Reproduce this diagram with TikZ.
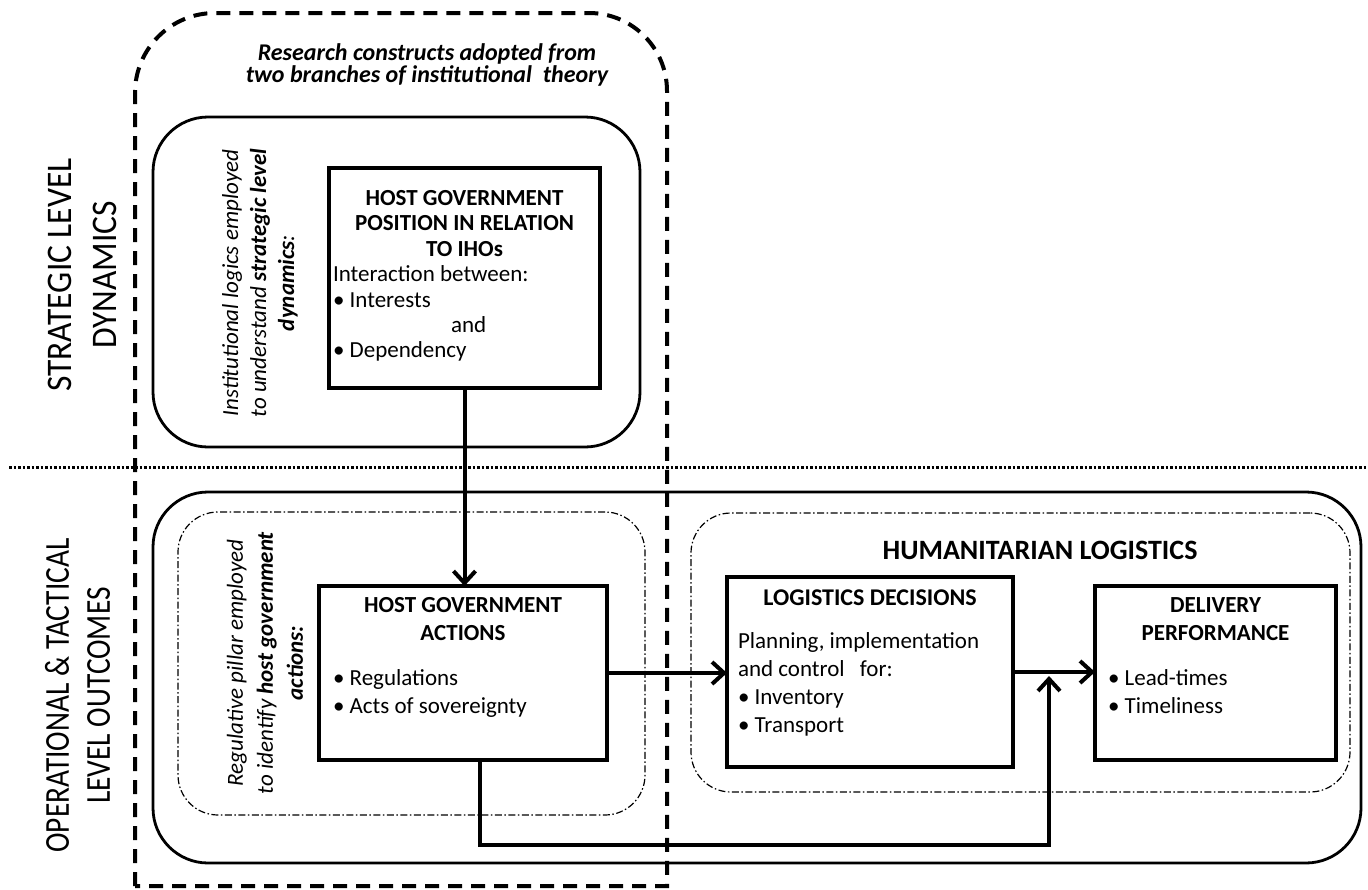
\documentclass[tikz,border=0pt]{standalone}
\usepackage{fontspec}
\setmainfont{Carlito}
\newfontfamily\stratfont[FakeStretch=0.93]{Carlito}
\newfontfamily\operfont[FakeStretch=0.84]{Carlito}
\usetikzlibrary{arrows.meta,calc}
\begin{document}
\begin{tikzpicture}[x=1pt,y=-1pt,
  every node/.style={inner sep=0pt, outer sep=0pt},
  hd/.style={font=\fontsize{23}{28}\selectfont\bfseries, align=center, anchor=north},
  bd/.style={font=\fontsize{23}{28}\selectfont, align=left, anchor=north west},
  side/.style={font=\fontsize{23}{28}\selectfont\itshape, align=center, rotate=90},
  sq/.style={draw, line width=3.5pt, rectangle},
  rbox/.style={draw, line width=2.8pt, rounded corners=55pt},
  ddbox/.style={draw, line width=1.2pt, rounded corners=40pt, dash pattern=on 7pt off 2.5pt on 1.5pt off 2.5pt},
  conn/.style={line width=4pt, -{Straight Barb[length=12pt,width=22pt]}},
]
\useasboundingbox (0,0) rectangle (1368,889);

% outer dashed region
\draw[line width=4pt, dash pattern=on 14pt off 9pt]
  (135,886) -- (135,93) arc[start angle=180,end angle=270,radius=80]
  -- (589,13) arc[start angle=270,end angle=360,radius=78] -- (667,886) -- cycle;

% dotted separator
\draw[line width=3pt, dash pattern=on 2.5pt off 2pt] (9,467) -- (1368,467);

% containers
\node[rbox, minimum width=487pt, minimum height=330pt] (strat) at (396.5,282) {};
\node[rbox, minimum width=1208pt, minimum height=371pt] (oper) at (757,677.5) {};
\node[ddbox, minimum width=467pt, minimum height=303pt] (reg) at (411.5,663.5) {};
\node[ddbox, minimum width=659pt, minimum height=279pt] (hum) at (1020.5,652.5) {};

% titles
\node[font=\fontsize{24}{22.5}\selectfont\bfseries\itshape, align=center, anchor=north] (title) at (427,43.5)
  {Research constructs adopted from\\two branches of institutional\ \ theory};
\node[font=\fontsize{36}{45}\stratfont\selectfont, align=center, rotate=90] (lstrat) at (82.5,275) {STRATEGIC LEVEL\\DYNAMICS};
\node[font=\fontsize{35}{41}\operfont\selectfont, align=center, rotate=90] (loper) at (77.5,695.5) {OPERATIONAL \& TACTICAL\\LEVEL OUTCOMES};
\node[side] (sstrat) at (260,283) {Institutional logics employed\\to understand \textbf{strategic level}\\\textbf{dynamics}:};
\node[side, font=\fontsize{23}{30}\selectfont\itshape] (sreg) at (265,663) {Regulative pillar employed\\to identify \textbf{host government}\\\textbf{actions:}};
\node[font=\fontsize{28}{32}\selectfont\bfseries] (humt) at (1040,550) {HUMANITARIAN LOGISTICS};

% boxes
\node[sq, minimum width=271pt, minimum height=220pt] (pos) at (464.5,278) {};
\node[hd, font=\fontsize{23}{25.3}\selectfont\bfseries] (posh) at (464.5,190.6) {HOST GOVERNMENT\\POSITION IN RELATION\\TO IHOs};
\node[bd, font=\fontsize{23}{25.3}\selectfont] (posb) at (333,266) {Interaction between:\\• Interests\\\hspace*{118pt}and\\• Dependency};

\node[sq, minimum width=288pt, minimum height=174pt] (act) at (463,673) {};
\node[hd] (acth) at (463,597.6) {HOST GOVERNMENT\\ACTIONS};
\node[bd] (actb) at (333,670) {• Regulations\\• Acts of sovereignty};

\node[sq, minimum width=286pt, minimum height=190pt] (log) at (870,672) {};
\node[hd, font=\fontsize{24}{28}\selectfont\bfseries] (logh) at (870,589.6) {LOGISTICS DECISIONS};
\node[bd] (logb) at (738,633) {Planning, implementation\\and control\hspace{10pt} for:\\• Inventory\\• Transport};

\node[sq, minimum width=241pt, minimum height=174pt] (del) at (1215.5,673) {};
\node[hd] (delh) at (1215.5,597.6) {DELIVERY\\PERFORMANCE};
\node[bd] (delb) at (1108,670) {• Lead-times\\• Timeliness};

% connectors
\draw[conn] (pos.south) -- (pos.south |- act.north);
\draw[conn] (act.east) -- (act.east -| log.west);
\draw[conn] (log.east) -- (log.east -| del.west);
\coordinate (bl) at (480,845);
\coordinate (br) at (1049,845);
\coordinate (tip) at (1049,676);
\draw[conn] (act.south -| bl) -- (bl) -- (br) -- (tip);
\end{tikzpicture}
\end{document}
